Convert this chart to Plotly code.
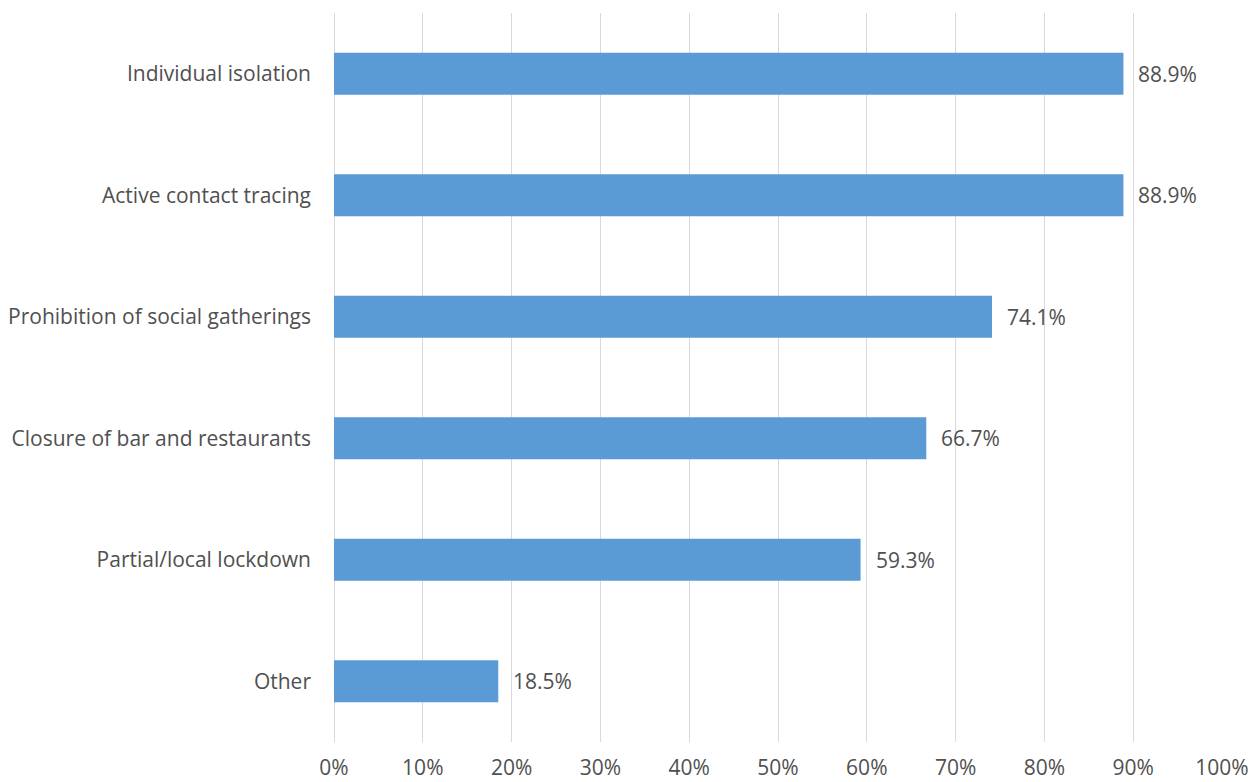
import plotly.graph_objects as go

measures = [
    "Individual isolation",
    "Active contact tracing",
    "Prohibition of social gatherings",
    "Closure of bar and restaurants",
    "Partial/local lockdown",
    "Other",
]
shares = [88.9, 88.9, 74.1, 66.7, 59.3, 18.5]
tick_values = [0, 10, 20, 30, 40, 50, 60, 70, 80, 90, 100]
tick_labels = [f"{v}%" for v in tick_values]

BAR = "#5B9BD5"
TEXT = "#505050"
GRID = "#D9D9D9"
FONT = "Open Sans, Liberation Sans, sans-serif"
SIZE = 21

fig = go.Figure(
    go.Bar(
        x=shares,
        y=measures,
        orientation="h",
        marker=dict(color=BAR, line=dict(width=0)),
        hoverinfo="skip",
    )
)

for m, v in zip(measures, shares):
    fig.add_annotation(
        x=v, y=m, xref="x", yref="y",
        text=f"{v:.1f}%", showarrow=False,
        xanchor="left", xshift=13,
        font=dict(family=FONT, size=SIZE, color=TEXT),
    )

fig.update_layout(
    width=1250, height=782,
    margin=dict(l=334, r=28, t=13, b=40),
    paper_bgcolor="white", plot_bgcolor="white",
    bargap=0.655,
    showlegend=False,
    font=dict(family=FONT, size=SIZE, color=TEXT),
)
fig.update_xaxes(
    range=[0, 100],
    tickvals=tick_values, ticktext=tick_labels,
    showgrid=True, gridcolor=GRID, gridwidth=1,
    zeroline=True, zerolinecolor=GRID, zerolinewidth=1,
    showline=False, ticks="", ticklabelstandoff=11,
    automargin=False,
    tickfont=dict(family=FONT, size=SIZE, color=TEXT),
    fixedrange=True,
)
fig.update_yaxes(
    autorange="reversed",
    showgrid=False, showline=False, ticks="",
    ticklabelstandoff=22, automargin=False,
    tickfont=dict(family=FONT, size=SIZE, color=TEXT),
    fixedrange=True,
)

fig.write_html("out.html")
